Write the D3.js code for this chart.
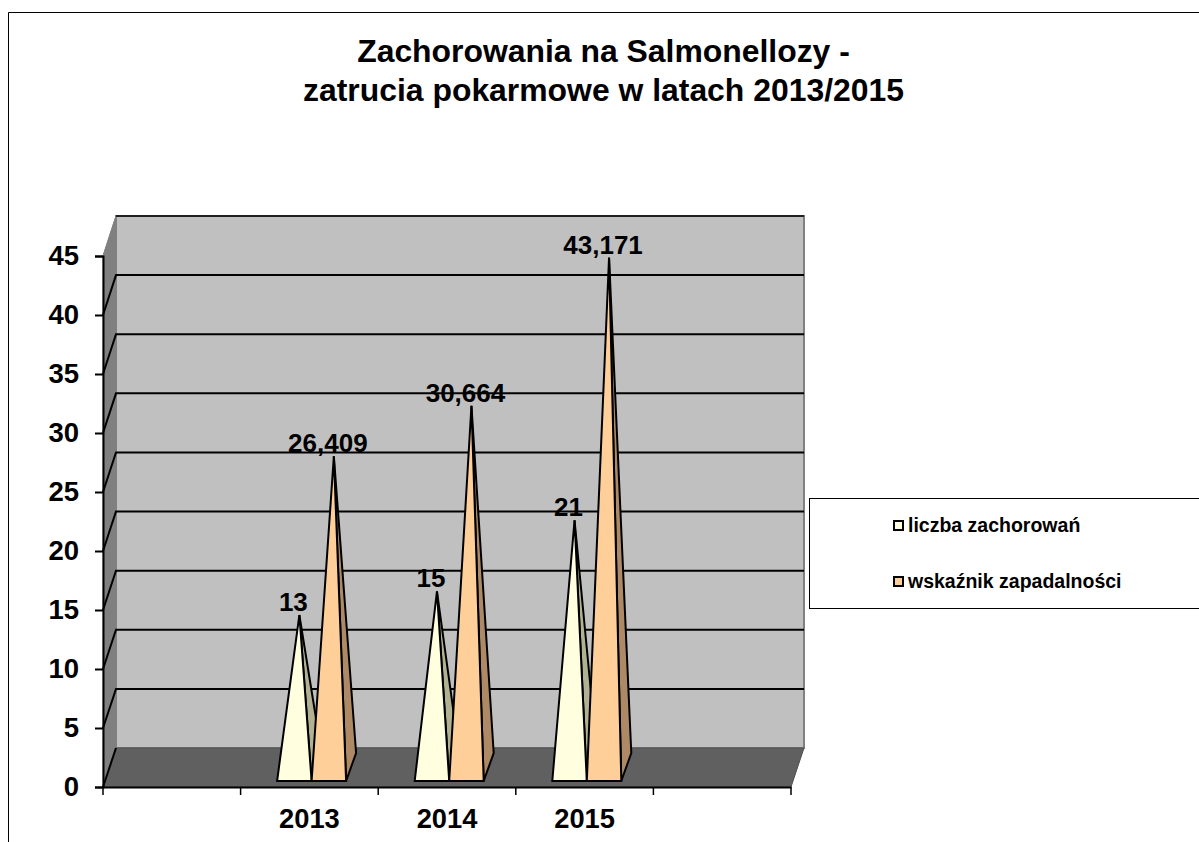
<!DOCTYPE html>
<html>
<head>
<meta charset="utf-8">
<script src="https://cdn.jsdelivr.net/npm/d3@7"></script>
<style>
    html, body { margin: 0; padding: 0; background: #fff; overflow: hidden; }
    text { font-family: "Liberation Sans", Arial, sans-serif; font-weight: bold; fill: #000; }
</style>
</head>
<body>
<svg id="chart"></svg>
<script>
// ----- data -----
let years = ["2013", "2014", "2015"];
let cases = [13, 15, 21];
let incidence = [26.409, 30.664, 43.171];
let seriesNames = ["liczba zachorowań", "wskaźnik zapadalności"];
let titleLines = ["Zachorowania na Salmonellozy -", "zatrucia pokarmowe w latach 2013/2015"];
let yTicks = [0, 5, 10, 15, 20, 25, 30, 35, 40, 45];

let svgWidth = 1199;
let svgHeight = 842;

let svg = d3.select("#chart")
    .attr("width", svgWidth)
    .attr("height", svgHeight)
    .style("display", "block");

let plot = { left: 103, right: 791, top: 256, bottom: 787 };
let depth = { x: 13 };              // floor / wall offset
let barDepth = { x: 10, y: -28 };   // pyramid base offset

// blank categories either side, like the original sheet
let x = d3.scaleBand()
    .domain(["_a"].concat(years, ["_b"]))
    .range([plot.left, plot.right]);

// three value scales: front edge (axis), back wall, and the middle row where the bars stand
let y = d3.scaleLinear().domain([0, 45]).range([plot.bottom, plot.top]);
let yWall = d3.scaleLinear().domain([0, 45]).range([748, 216]);
let yBar = d3.scaleLinear().domain([0, 45]).range([769, 236]);

let poly = pts => pts.map(p => p.join(",")).join(" ");

// ----- outer frame -----
svg.append("path")
    .attr("d", `M8.5,${svgHeight} V12.5 H${svgWidth}`)
    .attr("fill", "none")
    .attr("stroke", "#000")
    .attr("stroke-width", 1);

// ----- title -----
svg.append("g").selectAll("text")
    .data(titleLines)
    .enter()
    .append("text")
    .attr("x", 603.5)
    .attr("y", (d, i) => 62 + i * 39)
    .attr("text-anchor", "middle")
    .attr("font-size", 31.9)
    .text(d => d);

// ----- walls and floor -----
let walls = svg.append("g");
walls.append("polygon")
    .attr("points", poly([
        [plot.left, y(45)],
        [plot.left + depth.x, yWall(45)],
        [plot.left + depth.x, yWall(0)],
        [plot.left, y(0)]
    ]))
    .attr("fill", "#808080")
    .attr("stroke", "#808080");

walls.append("polygon")
    .attr("points", poly([
        [plot.left + depth.x, yWall(45)],
        [plot.right + depth.x, yWall(45)],
        [plot.right + depth.x, yWall(0)],
        [plot.left + depth.x, yWall(0)]
    ]))
    .attr("fill", "#c0c0c0")
    .attr("stroke", "#808080")
    .attr("stroke-width", 2);

walls.append("polygon")
    .attr("points", poly([
        [plot.left, y(0)],
        [plot.left + depth.x, yWall(0)],
        [plot.right + depth.x, yWall(0)],
        [plot.right, y(0)]
    ]))
    .attr("fill", "#606060")
    .attr("stroke", "#505050");

// ----- gridlines, running along the side wall and the back wall -----
let grid = svg.append("g")
    .attr("fill", "none")
    .attr("stroke", "#000")
    .attr("stroke-width", 2);

grid.selectAll("path")
    .data(yTicks)
    .enter()
    .append("path")
    .attr("d", d => {
        let line = `M${plot.left},${y(d)} L${plot.left + depth.x},${yWall(d)}`;
        if (d > 0 && d < 45) {
            line += ` H${plot.right + depth.x}`;
        }
        return line;
    })
    .attr("stroke-width", d => (d === 45 ? 1 : 2))
    .attr("stroke", d => (d === 45 ? "#808080" : "#000"));

// top edge of the back wall
svg.append("path")
    .attr("d", `M${plot.left + depth.x},${yWall(45)} H${plot.right + depth.x}`)
    .attr("stroke", "#202020")
    .attr("stroke-width", 2);

// ----- axes -----
let axisY = d3.axisLeft(y)
    .tickValues(yTicks)
    .tickSize(8)
    .tickPadding(16);

let groupY = svg.append("g")
    .attr("transform", `translate(${plot.left}, 0)`)
    .call(axisY);
groupY.select(".domain").attr("stroke", "#000").attr("stroke-width", 2);
groupY.selectAll(".tick line").attr("stroke", "#000").attr("stroke-width", 2);
groupY.selectAll("text")
    .style("font-size", "27.5px");

let axisX = d3.axisBottom(x)
    .tickValues(years)
    .tickSize(0)
    .tickPadding(22);

let groupX = svg.append("g")
    .attr("transform", `translate(0, ${plot.bottom})`)
    .call(axisX);
groupX.select(".domain").attr("stroke", "#000").attr("stroke-width", 2);
groupX.selectAll("text")
    .style("font-size", "27.3px");

// tick marks sit at the band edges
let edges = x.domain().map(d => x(d)).concat([plot.right]);
groupX.selectAll("line.edge")
    .data(edges)
    .enter()
    .append("line")
    .attr("class", "edge")
    .attr("x1", d => d)
    .attr("x2", d => d)
    .attr("y1", 0)
    .attr("y2", 8)
    .attr("stroke", "#000")
    .attr("stroke-width", 1.5);

// ----- pyramids -----
let colors = [
    { front: "#ffffdf", side: "#b2b292" },
    { front: "#ffcf99", side: "#ad8a65" }
];
let barWidth = 34.5;
let barShift = 2.2;
let baseY = plot.bottom - 6;

let series = [cases, incidence];
let marks = svg.append("g");

years.forEach((year, i) => {
    series.forEach((values, s) => {
        let value = values[i];
        let centre = x(year) + x.bandwidth() / 2 + barShift;
        let x0 = centre + (s - 1) * barWidth;
        let x1 = x0 + barWidth;
        let apex = [(x0 + x1) / 2 + barDepth.x / 2, yBar(value)];

        let g = marks.append("g")
            .attr("stroke", "#000")
            .attr("stroke-width", 2)
            .attr("stroke-linejoin", "miter")
            .attr("stroke-miterlimit", 4);

        g.append("polygon")
            .attr("points", poly([[x1, baseY], [x1 + barDepth.x, baseY + barDepth.y], apex]))
            .attr("fill", colors[s].side);
        g.append("polygon")
            .attr("points", poly([[x0, baseY], [x1, baseY], apex]))
            .attr("fill", colors[s].front);
    });
});

// ----- value labels, on top of everything -----
let labels = svg.append("g");
years.forEach((year, i) => {
    series.forEach((values, s) => {
        let value = values[i];
        let centre = x(year) + x.bandwidth() / 2 + barShift;
        labels.append("text")
            .attr("x", centre + (s - 1) * barWidth + barWidth / 2 - 1)
            .attr("y", yBar(value) - 4)
            .attr("text-anchor", "middle")
            .attr("font-size", 26)
            .text(String(value).replace(".", ","));
    });
});

// ----- legend -----
let legend = svg.append("g");
legend.append("rect")
    .attr("x", 809.5)
    .attr("y", 498.5)
    .attr("width", 400)
    .attr("height", 110)
    .attr("fill", "#fff")
    .attr("stroke", "#000")
    .attr("stroke-width", 1);

seriesNames.forEach((name, s) => {
    let rowY = 526 + s * 56;
    legend.append("rect")
        .attr("x", 894)
        .attr("y", rowY - 5)
        .attr("width", 9)
        .attr("height", 9)
        .attr("fill", colors[s].front)
        .attr("stroke", "#000")
        .attr("stroke-width", 2);
    legend.append("text")
        .attr("x", 908)
        .attr("y", rowY + 6)
        .attr("font-size", 19.5)
        .text(name);
});
</script>
</body>
</html>
